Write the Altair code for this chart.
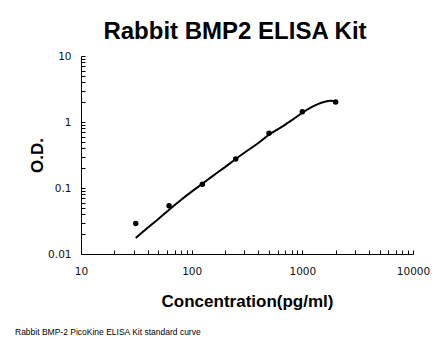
import altair as alt
import pandas as pd

TITLE = "Rabbit BMP2 ELISA Kit"
X_TITLE = "Concentration(pg/ml)"
Y_TITLE = "O.D."
CAPTION = "Rabbit BMP-2 PicoKine ELISA Kit standard curve"

# standard points
conc = [31.25, 62.5, 125, 250, 500, 1000, 2000]
od = [0.029, 0.054, 0.114, 0.275, 0.675, 1.43, 2.01]

# fitted curve
curve_conc = [31.25, 40, 50, 62.5, 80, 100, 125, 160, 200, 250, 320, 400, 500,
              640, 800, 1000, 1200, 1400, 1600, 1800, 2000]
curve_od = [0.0175, 0.025, 0.034, 0.047, 0.066, 0.088, 0.116, 0.158, 0.207, 0.275,
            0.37, 0.48, 0.64, 0.83, 1.06, 1.38, 1.66, 1.88, 2.03, 2.09, 2.07]

x_major = [10, 100, 1000, 10000]
x_ticks = [10, 20, 30, 40, 50, 60, 70, 80, 90,
           100, 200, 300, 400, 500, 600, 700, 800, 900,
           1000, 2000, 3000, 4000, 5000, 6000, 7000, 8000, 9000, 10000]
y_major = [0.01, 0.1, 1, 10]
y_ticks = [0.01, 0.02, 0.03, 0.04, 0.05, 0.06, 0.07, 0.08, 0.09,
           0.1, 0.2, 0.3, 0.4, 0.5, 0.6, 0.7, 0.8, 0.9,
           1, 2, 3, 4, 5, 6, 7, 8, 9, 10]

pts = pd.DataFrame({"conc": conc, "od": od})
crv = pd.DataFrame({"conc": curve_conc, "od": curve_od})
cap = pd.DataFrame({"text": [CAPTION]})

W, H = 332, 198
xs = alt.Scale(type="log", domain=[10, 10000], nice=False)
ys = alt.Scale(type="log", domain=[0.01, 10], nice=False)

LFONT = "DejaVu Sans"
BFONT = "Liberation Sans"

x_axis_main = alt.Axis(orient="bottom", values=x_major, ticks=False, domain=True,
                       domainColor="black", domainWidth=1, format="~g",
                       labelFont=LFONT, labelFontSize=10.5,
                       labelColor="#111111", labelPadding=12, labelFlush=False,
                       title=X_TITLE, titleFont=BFONT, titleFontSize=17,
                       titleFontWeight="bold", titleColor="black",
                       titleY=52, titleBaseline="alphabetic", grid=False)
y_axis_main = alt.Axis(orient="left", values=y_major, ticks=False, domain=True,
                       domainColor="black", domainWidth=1, format="~g",
                       labelFont=LFONT, labelFontSize=10.5,
                       labelColor="#111111", labelPadding=10, labelFlush=False,
                       title=Y_TITLE, titleFont=BFONT, titleFontSize=17,
                       titleFontWeight="bold", titleColor="black",
                       titleX=-44, titleY=H / 2, titleAngle=270, titleAlign="center",
                       titleBaseline="middle", grid=False)
x_axis_ticks = alt.Axis(orient="top", offset=-H, values=x_ticks, labels=False,
                        domain=False, ticks=True, tickSize=4, tickColor="black",
                        tickWidth=1, title=None, grid=False)
y_axis_ticks = alt.Axis(orient="right", offset=-W, values=y_ticks, labels=False,
                        domain=False, ticks=True, tickSize=4, tickColor="black",
                        tickWidth=1, title=None, grid=False)

line = alt.Chart(crv).mark_line(color="black", strokeWidth=2, interpolate="monotone").encode(
    x=alt.X("conc:Q", scale=xs, axis=x_axis_ticks),
    y=alt.Y("od:Q", scale=ys, axis=y_axis_ticks),
)
points = alt.Chart(pts).mark_circle(color="black", size=30, opacity=1).encode(
    x=alt.X("conc:Q", scale=xs, axis=x_axis_main),
    y=alt.Y("od:Q", scale=ys, axis=y_axis_main),
)
caption = alt.Chart(cap).mark_text(align="left", baseline="alphabetic", fontSize=8.5,
                                   font=BFONT, color="black").encode(
    x=alt.value(-66), y=alt.value(279), text="text:N"
)

chart = alt.layer(line, points, caption).resolve_scale(
    x="shared", y="shared"
).resolve_axis(
    x="independent", y="independent"
).properties(
    width=W, height=H,
    title=alt.TitleParams(TITLE, font=BFONT, fontSize=24, fontWeight="bold",
                          color="black", anchor="middle", dx=-12, dy=24, offset=12,
                          baseline="alphabetic"),
    padding={"left": 81, "top": 56, "right": 33, "bottom": 102},
    autosize=alt.AutoSizeParams(type="none"),
    background="white",
).configure_view(stroke=None)

chart.save("out.html", embed_options={"renderer": "svg", "actions": False})
